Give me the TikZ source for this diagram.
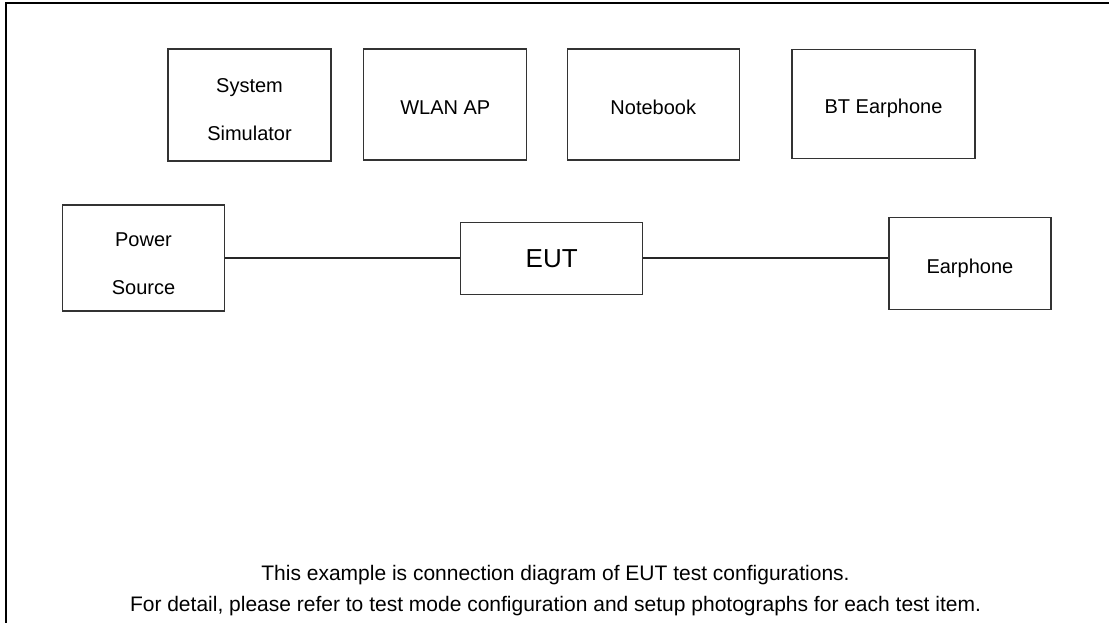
\documentclass[tikz,border=0pt]{standalone}
\usepackage{fontspec}
\setmainfont{Liberation Sans}
\begin{document}
\begin{tikzpicture}[x=1pt,y=-1pt,
  boxbase/.style={draw=black!80, line width=1.2pt, align=center, inner sep=0pt,
              font=\fontsize{20}{47.5}\selectfont},
  box/.style={boxbase, text height=19.5pt, text depth=0pt},
  twobox/.style={boxbase},
  bigbox/.style={boxbase, font=\fontsize{26}{30}\selectfont},
  wire/.style={draw=black!85, line width=1.5pt},
  caption/.style={font=\fontsize{21}{25}\selectfont, anchor=base, inner sep=0pt},
  frame/.style={draw=black, line width=2.2pt}]
\useasboundingbox (0,0) rectangle (1109,623);
\begin{scope}
  \clip (0,0) rectangle (1109,623);
  \draw[frame] (6,660) -- (6,3) -- (1140,3);
\end{scope}

\node[twobox, minimum width=163pt, minimum height=112pt] (sys)  at (249.5,105) {\rule{0pt}{23.5pt}System\\Simulator};
\node[box, minimum width=163pt, minimum height=111pt] (wlan) at (445.3,104.5) {WLAN AP};
\node[box, minimum width=172pt, minimum height=111pt] (nb)   at (653.3,104.5) {Notebook};
\node[box, minimum width=183pt, minimum height=109pt] (bt)   at (883.5,104) {BT Earphone};

\node[twobox, minimum width=162pt, minimum height=106pt] (pow) at (143.5,258) {\rule{0pt}{25pt}Power\\Source};
\node[bigbox, minimum width=182pt, minimum height=72pt] (eut) at (551.7,258.5) {EUT};
\node[box, minimum width=162pt, minimum height=92pt] (ear) at (969.9,263.5) {Earphone};

\draw[wire] (pow.east) -- (pow.east -| eut.west);
\draw[wire] (eut.east |- pow.east) -- (ear.west |- pow.east);

\node[caption] (c1) at (555.5,580.5) {This example is connection diagram of EUT test configurations.};
\node[caption] (c2) at (555.5,611) {For detail, please refer to test mode configuration and setup photographs for each test item.};
\end{tikzpicture}
\end{document}
